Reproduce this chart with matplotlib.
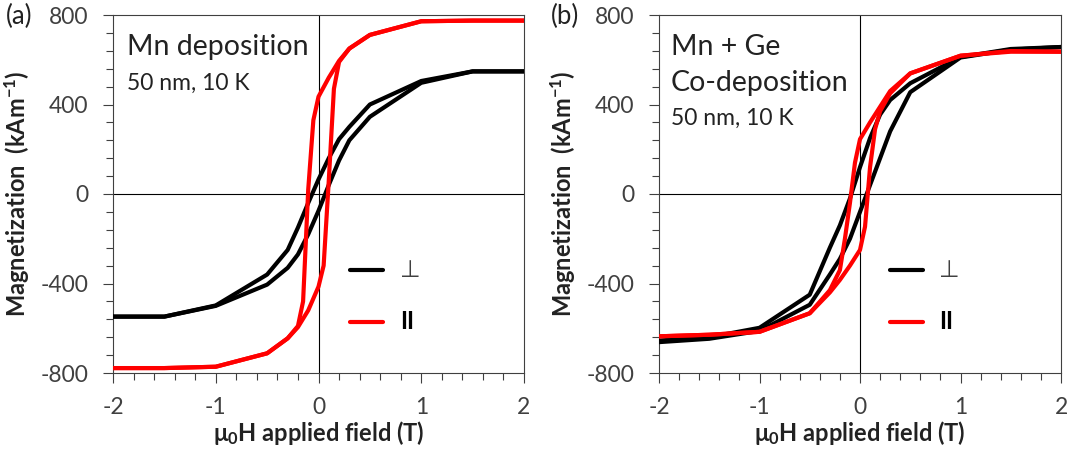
import numpy as np
import matplotlib
matplotlib.use('Agg')
import matplotlib.pyplot as plt
from matplotlib.ticker import MultipleLocator

plt.rcParams['font.family'] = ['Lato', 'DejaVu Sans']
plt.rcParams['axes.unicode_minus'] = False
plt.rcParams['mathtext.fontset'] = 'custom'
plt.rcParams['mathtext.rm'] = 'Lato'
plt.rcParams['mathtext.bf'] = 'Lato:bold'
plt.rcParams['mathtext.default'] = 'bf'

# (a) Mn deposition
a_perp_down_H = [2, 1.5, 1, 0.5, 0.3, 0.2, 0.1, 0, -0.1, -0.2, -0.3, -0.5, -1, -1.5, -2]
a_perp_down_M = [548, 548, 505, 400, 300, 245, 160, 65, -40, -150, -250, -360, -498, -548, -548]
a_perp_up_H = [-2, -1.5, -1, -0.5, -0.3, -0.2, -0.1, 0, 0.1, 0.2, 0.3, 0.5, 1, 1.5, 2]
a_perp_up_M = [-548, -548, -500, -405, -330, -270, -180, -75, 40, 150, 240, 345, 497, 548, 548]
a_par_down_H = [2, 1.5, 1, 0.5, 0.3, 0.2, 0.1, 0, -0.05, -0.1, -0.15, -0.2, -0.3, -0.5, -1, -1.5, -2]
a_par_down_M = [775, 775, 772, 711, 650, 595, 520, 435, 330, 20, -480, -590, -645, -712, -772, -778, -778]
a_par_up_H = [-2, -1.5, -1, -0.5, -0.3, -0.2, -0.1, 0, 0.05, 0.1, 0.15, 0.2, 0.3, 0.5, 1, 1.5, 2]
a_par_up_M = [-778, -778, -772, -712, -645, -595, -520, -414, -320, 60, 470, 590, 650, 711, 772, 775, 775]

# (b) Mn + Ge co-deposition
b_perp_down_H = [2, 1.5, 1, 0.5, 0.3, 0.2, 0.1, 0, -0.1, -0.2, -0.3, -0.5, -1, -1.5, -2]
b_perp_down_M = [657, 648, 612, 495, 420, 355, 250, 120, -20, -140, -240, -450, -598, -640, -655]
b_perp_up_H = [-2, -1.5, -1, -0.5, -0.3, -0.2, -0.1, 0, 0.1, 0.2, 0.3, 0.5, 1, 1.5, 2]
b_perp_up_M = [-662, -647, -612, -495, -360, -290, -200, -80, 40, 160, 280, 455, 610, 645, 657]
b_par_down_H = [2, 1.5, 1, 0.5, 0.3, 0.2, 0.1, 0, -0.05, -0.1, -0.15, -0.2, -0.3, -0.5, -1, -1.5, -2]
b_par_down_M = [636, 639, 618, 539, 460, 390, 320, 245, 140, -40, -200, -340, -430, -533, -616, -629, -636]
b_par_up_H = [-2, -1.5, -1, -0.5, -0.3, -0.2, -0.1, 0, 0.05, 0.1, 0.15, 0.2, 0.3, 0.5, 1, 1.5, 2]
b_par_up_M = [-636, -629, -616, -533, -440, -384, -320, -250, -146, 120, 290, 370, 450, 539, 618, 636, 636]

fig = plt.figure(figsize=(10.69, 4.55), dpi=100)
ax1 = fig.add_axes([113/1069, 82/455, 411/1069, 358/455])
ax2 = fig.add_axes([659/1069, 82/455, 402/1069, 358/455])

grey = '#404040'

def setup(ax):
    ax.set_xlim(-2, 2)
    ax.set_ylim(-800, 800)
    ax.axhline(0, color='black', lw=0.8, zorder=1)
    ax.axvline(0, color='black', lw=0.8, zorder=1)
    ax.xaxis.set_major_locator(MultipleLocator(1))
    ax.xaxis.set_minor_locator(MultipleLocator(0.2))
    ax.yaxis.set_major_locator(MultipleLocator(400))
    ax.yaxis.set_minor_locator(MultipleLocator(80))
    ax.tick_params(which='both', direction='out', color=grey, width=0.8, labelcolor=grey, labelsize=16.5)
    ax.tick_params(which='major', length=7)
    ax.tick_params(which='minor', length=5)
    ax.tick_params(axis='x', which='major', pad=10)
    ax.tick_params(axis='y', which='major', pad=11)
    for s in ax.spines.values():
        s.set_color(grey)
        s.set_linewidth(0.8)
    ax.set_xlabel(r'$\mu_0$H applied field (T)', fontsize=17, fontweight='bold', color='#222222', labelpad=1)
    ax.set_ylabel(r'Magnetization  (kAm$^{-1}$)', fontsize=17, fontweight='bold', color='#222222', labelpad=6)

def draw(ax, pdh, pdm, puh, pum, rdh, rdm, ruh, rum):
    kw = dict(lw=3, solid_joinstyle='round', solid_capstyle='round', zorder=3)
    ax.plot(pdh, pdm, color='black', **kw)
    ax.plot(puh, pum, color='black', **kw)
    ax.plot(rdh, rdm, color='#ff0000', **kw)
    ax.plot(ruh, rum, color='#ff0000', **kw)

def legend(ax, x0, x1):
    ax.plot([x0, x1], [-340, -340], color='black', lw=3, solid_capstyle='round')
    ax.plot([x0, x1], [-570, -570], color='#ff0000', lw=3, solid_capstyle='round')
    ax.text(x1 + 0.16, -340, '\u22a5', fontsize=17, color=grey, va='center', ha='left',
            family=['DejaVu Sans'])
    ax.text(x1 + 0.16, -570, 'II', fontsize=17, fontweight='bold', color='black', va='center', ha='left')

setup(ax1)
draw(ax1, a_perp_down_H, a_perp_down_M, a_perp_up_H, a_perp_up_M,
     a_par_down_H, a_par_down_M, a_par_up_H, a_par_up_M)
legend(ax1, 0.31, 0.63)
ax1.text(0.033, 0.91, 'Mn deposition', transform=ax1.transAxes, fontsize=20.5, color='#222222', va='center')
ax1.text(0.033, 0.81, '50 nm, 10 K', transform=ax1.transAxes, fontsize=16.5, color='#222222', va='center')

setup(ax2)
draw(ax2, b_perp_down_H, b_perp_down_M, b_perp_up_H, b_perp_up_M,
     b_par_down_H, b_par_down_M, b_par_up_H, b_par_up_M)
legend(ax2, 0.3, 0.63)
ax2.text(0.03, 0.91, 'Mn + Ge', transform=ax2.transAxes, fontsize=20.5, color='#222222', va='center')
ax2.text(0.03, 0.81, 'Co-deposition', transform=ax2.transAxes, fontsize=20.5, color='#222222', va='center')
ax2.text(0.03, 0.71, '50 nm, 10 K', transform=ax2.transAxes, fontsize=16.5, color='#222222', va='center')

fig.text(6/1069, 1 - 16/455, '(a)', fontsize=18.5, color='#222222', va='center', ha='left')
fig.text(551/1069, 1 - 16/455, '(b)', fontsize=18.5, color='#222222', va='center', ha='left')

fig.savefig('out.png', dpi=100)
